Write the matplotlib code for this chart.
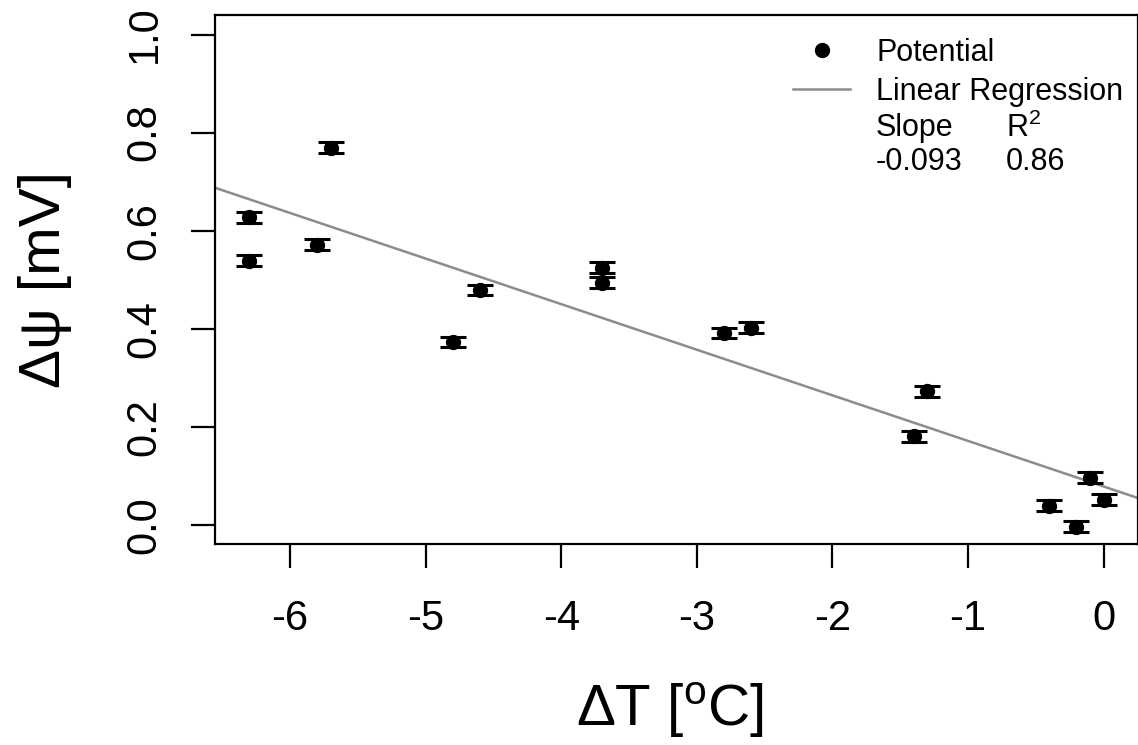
import matplotlib
matplotlib.use("Agg")
import matplotlib.pyplot as plt
from matplotlib.lines import Line2D

plt.rcParams['font.family'] = ['Liberation Sans', 'DejaVu Sans']
plt.rcParams['mathtext.fontset'] = 'custom'
plt.rcParams['mathtext.rm'] = 'Liberation Sans'
plt.rcParams['mathtext.it'] = 'Liberation Sans:italic'

# Data
delta_t = [-6.3, -6.3, -5.8, -5.7, -4.8, -4.6, -3.7, -3.7, -2.8, -2.6,
           -1.4, -1.3, -0.4, -0.2, -0.1, 0.0]
potential = [0.627, 0.539, 0.571, 0.769, 0.373, 0.479, 0.524, 0.494, 0.391, 0.402,
             0.180, 0.272, 0.039, -0.004, 0.096, 0.051]
potential_err = [0.011] * 16
slope = -0.093
intercept = 0.078
r_squared = 0.86
x_ticks = [-6, -5, -4, -3, -2, -1, 0]
y_ticks = [0.0, 0.2, 0.4, 0.6, 0.8, 1.0]

W, H = 1138, 745
fig = plt.figure(figsize=(W / 100, H / 100), dpi=100)
left, right, top, bottom = 215.3, 1137.7, 15.0, 544.3
ax = fig.add_axes([left / W, (H - bottom) / H, (right - left) / W, (bottom - top) / H])

ax.errorbar(delta_t, potential, yerr=potential_err, fmt='o', color='black',
            markersize=10, ecolor='black', elinewidth=2, capsize=9.5, capthick=2.2,
            zorder=3)
ax.axline((0, intercept), slope=slope, color='#8c8c8c', linewidth=1.8, zorder=2)

ax.set_xlim(-6.552, 0.252)
ax.set_ylim(-0.04, 1.04)
ax.set_xticks(x_ticks)
ax.set_xticklabels([f"{v:d}" for v in x_ticks])
ax.set_yticks(y_ticks)
ax.set_yticklabels([f"{v:.1f}" for v in y_ticks], rotation=90, va='center')
ax.tick_params(axis='both', direction='out', length=17.5, width=1.6, labelsize=30,
               color='black')
ax.tick_params(axis='x', pad=22)
ax.tick_params(axis='y', pad=19)
for s in ax.spines.values():
    s.set_linewidth(1.6)

fig.text(670 / W, 1 - 710 / H, r'$\Delta$T [$^{\mathrm{o}}$C]', fontsize=42,
         ha='center', va='center')
fig.text(45 / W, 1 - 280 / H, 'Δψ [mV]', fontsize=42, rotation=90,
         ha='center', va='center')

handles = [Line2D([], [], marker='o', color='black', linestyle='none', markersize=10),
           Line2D([], [], color='#8c8c8c', linewidth=1.8)]
leg = ax.legend(handles, ['Potential', 'Linear Regression'], loc='upper left',
                bbox_to_anchor=(793 / W, 1 - 38 / H), bbox_transform=fig.transFigure,
                frameon=False, fontsize=22, handlelength=1.87, handletextpad=0.85,
                labelspacing=0.28, borderpad=0, borderaxespad=0)

fig.text(876 / W, 1 - 128 / H, 'Slope', fontsize=22, ha='left', va='center')
fig.text(1006 / W, 1 - 128 / H, r'R$^{2}$', fontsize=22, ha='left', va='center')
fig.text(876 / W, 1 - 162 / H, f'{slope:.3f}', fontsize=22, ha='left', va='center')
fig.text(1006 / W, 1 - 162 / H, f'{r_squared:.2f}', fontsize=22, ha='left', va='center')

fig.savefig('out.png', dpi=100)
